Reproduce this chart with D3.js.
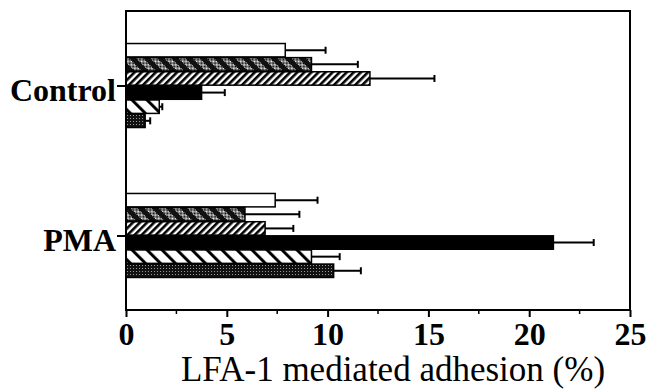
<!DOCTYPE html>
<html>
<head>
<meta charset="utf-8">
<script src="https://cdn.jsdelivr.net/npm/d3@7"></script>
<style>
  html, body { margin: 0; padding: 0; background: #fff; }
  svg { display: block; font-family: "Liberation Serif", "DejaVu Serif", serif; }
</style>
</head>
<body>
<svg id="chart" width="647" height="391"></svg>
<script>
// data
const groups = ["Control", "PMA"]
const series = ["open", "stippled", "hatched", "solid", "backHatched", "dotted"]
const controlMeans = [7.9, 9.2, 12.1, 3.75, 1.65, 0.95]
const controlErrors = [2.0, 2.3, 3.2, 1.15, 0.15, 0.25]
const pmaMeans = [7.4, 5.9, 6.9, 21.2, 9.2, 10.3]
const pmaErrors = [2.1, 2.7, 1.4, 2.0, 1.4, 1.35]
const xTicks = [0, 5, 10, 15, 20, 25]
const xMinorTicks = [2.5, 7.5, 12.5, 17.5, 22.5]
const xTitle = "LFA-1 mediated adhesion (%)"

const rows = []
groups.forEach((g, gi) => {
  const means = gi === 0 ? controlMeans : pmaMeans
  const errs = gi === 0 ? controlErrors : pmaErrors
  series.forEach((s, si) => rows.push({group: g, series: s, value: means[si], err: errs[si]}))
})

const margins = {left: 126, right: 17, top: 11, bottom: 81}
const width = 647, height = 391
const svg = d3.select("#chart")

const x = d3.scaleLinear().domain([0, 25]).range([margins.left, width - margins.right])
const y = d3.scalePoint().domain(groups).range([margins.top, height - margins.bottom]).padding(0.497)
const yInner = d3.scaleBand().domain(series).range([-42, 42]).paddingInner(0.05)

// fill patterns
const defs = svg.append("defs")

const checker = defs.append("pattern").attr("id", "checker")
  .attr("patternUnits", "userSpaceOnUse").attr("width", 2).attr("height", 2)
checker.append("rect").attr("width", 2).attr("height", 2).attr("fill", "#fff")
checker.append("rect").attr("width", 1).attr("height", 1).attr("fill", "#000")
checker.append("rect").attr("x", 1).attr("y", 1).attr("width", 1).attr("height", 1).attr("fill", "#000")

const stippled = defs.append("pattern").attr("id", "stippled")
  .attr("patternUnits", "userSpaceOnUse").attr("width", 10).attr("height", 10)
  .attr("patternTransform", "rotate(-45)")
stippled.append("rect").attr("width", 10).attr("height", 10).attr("fill", "url(#checker)")
stippled.append("rect").attr("width", 5).attr("height", 10).attr("fill", "#111")

const hatched = defs.append("pattern").attr("id", "hatched")
  .attr("patternUnits", "userSpaceOnUse").attr("width", 5).attr("height", 5)
  .attr("patternTransform", "rotate(45)")
hatched.append("rect").attr("width", 5).attr("height", 5).attr("fill", "#fff")
hatched.append("rect").attr("width", 2.6).attr("height", 5).attr("fill", "#000")

const backHatched = defs.append("pattern").attr("id", "backHatched")
  .attr("patternUnits", "userSpaceOnUse").attr("width", 10.6).attr("height", 10.6)
  .attr("patternTransform", "rotate(-45)")
backHatched.append("rect").attr("width", 10.6).attr("height", 10.6).attr("fill", "#fff")
backHatched.append("rect").attr("width", 3).attr("height", 10.6).attr("fill", "#000")

const dotted = defs.append("pattern").attr("id", "dotted")
  .attr("patternUnits", "userSpaceOnUse").attr("width", 3).attr("height", 3)
dotted.append("rect").attr("width", 3).attr("height", 3).attr("fill", "#111")
dotted.append("rect").attr("x", 1).attr("y", 1).attr("width", 1).attr("height", 1).attr("fill", "#999")

const fills = {
  open: "#fff",
  stippled: "url(#stippled)",
  hatched: "url(#hatched)",
  solid: "#000",
  backHatched: "url(#backHatched)",
  dotted: "url(#dotted)"
}

// bars
const bars = svg.append("g").attr("class", "bars")
bars.selectAll("rect")
  .data(rows)
  .join("rect")
  .attr("x", x(0))
  .attr("y", d => y(d.group) + yInner(d.series))
  .attr("width", d => x(d.value) - x(0))
  .attr("height", yInner.bandwidth())
  .attr("fill", d => fills[d.series])
  .attr("stroke", "#000")
  .attr("stroke-width", 1.5)

// error bars (upper side only)
const errs = svg.append("g").attr("class", "errors").attr("stroke", "#000").attr("stroke-width", 2)
errs.selectAll("line.whisker")
  .data(rows)
  .join("line")
  .attr("class", "whisker")
  .attr("x1", d => x(d.value))
  .attr("x2", d => x(d.value + d.err))
  .attr("y1", d => y(d.group) + yInner(d.series) + yInner.bandwidth() / 2)
  .attr("y2", d => y(d.group) + yInner(d.series) + yInner.bandwidth() / 2)
errs.selectAll("line.cap")
  .data(rows)
  .join("line")
  .attr("class", "cap")
  .attr("x1", d => x(d.value + d.err))
  .attr("x2", d => x(d.value + d.err))
  .attr("y1", d => y(d.group) + yInner(d.series) + yInner.bandwidth() / 2 - 3.5)
  .attr("y2", d => y(d.group) + yInner(d.series) + yInner.bandwidth() / 2 + 3.5)

// frame
const bottom = height - margins.bottom
svg.append("rect")
  .attr("x", x(0)).attr("y", margins.top)
  .attr("width", x(25) - x(0)).attr("height", bottom - margins.top)
  .attr("fill", "none").attr("stroke", "#000").attr("stroke-width", 2)

// x axis
const xAxis = svg.append("g")
  .attr("transform", `translate(0, ${bottom})`)
  .call(d3.axisBottom(x).tickValues(xTicks).tickSize(7).tickPadding(5).tickFormat(d3.format("d")))
xAxis.select(".domain").remove()
xAxis.selectAll(".tick line").attr("stroke-width", 2)
xAxis.selectAll(".tick text")
  .attr("font-family", "Liberation Serif")
  .attr("font-size", 32).attr("font-weight", "bold").attr("fill", "#000")

svg.append("g")
  .attr("transform", `translate(0, ${bottom})`)
  .selectAll("line")
  .data(xMinorTicks)
  .join("line")
  .attr("x1", d => x(d)).attr("x2", d => x(d))
  .attr("y1", 0).attr("y2", 4)
  .attr("stroke", "#000").attr("stroke-width", 1.5)

// y axis (category ticks)
const yAxis = svg.append("g")
  .attr("transform", `translate(${x(0)}, 0)`)
  .call(d3.axisLeft(y).tickSize(9).tickPadding(1))
yAxis.select(".domain").remove()
yAxis.selectAll(".tick line").attr("stroke-width", 2)
yAxis.selectAll(".tick text")
  .attr("font-family", "Liberation Serif")
  .attr("font-size", 32).attr("font-weight", "bold").attr("fill", "#000")
  .attr("dy", "0.48em")

// axis title
svg.append("text")
  .attr("x", 393).attr("y", 381)
  .attr("text-anchor", "middle")
  .attr("font-size", 35)
  .attr("fill", "#000")
  .text(xTitle)
</script>
</body>
</html>
